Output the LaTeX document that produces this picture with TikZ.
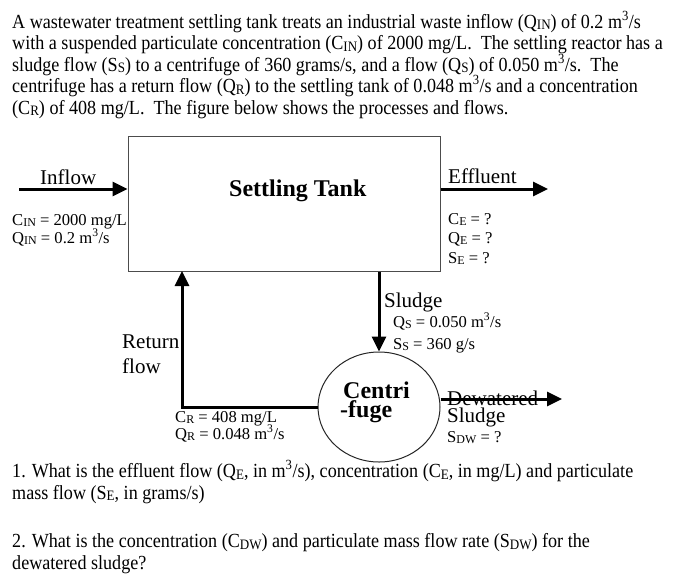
\documentclass[tikz,border=0pt]{standalone}
\usepackage{fontspec}
\setmainfont{Liberation Serif}
\newfontfamily\condfont{Liberation Serif}[FakeStretch=0.905]
\usetikzlibrary{shapes,arrows,positioning,calc,arrows.meta}
\newcommand{\lsub}[1]{\raisebox{-0.2ex}{\scalebox{0.72}{#1}}}
\newcommand{\cube}{\textsuperscript{3}}

\begin{document}
\begin{tikzpicture}[x=1pt, y=-1pt,
    block/.style={rectangle, draw=black!70, line width=1pt, minimum width=312pt, minimum height=135pt},
    drum/.style={ellipse, draw=black!85, line width=1pt, minimum width=122pt, minimum height=110pt},
    flow/.style={-{Triangle[length=15pt,width=14pt]}, line width=3pt},
    txt/.style={anchor=base west, inner sep=0pt, align=left, font=\condfont\fontsize{20}{21.5}\selectfont},
    big/.style={anchor=base west, inner sep=0pt, font=\fontsize{21}{24}\selectfont},
    small/.style={anchor=base west, inner sep=0pt, font=\fontsize{16.6}{19}\selectfont}]
    \useasboundingbox (0,0) rectangle (700,584);
    % problem statement (base = last line)
    \node[txt] (intro) at (12,114) {A wastewater treatment settling tank treats an industrial waste inflow (Q\lsub{IN}) of 0.2 m\cube/s\\
        with a suspended particulate concentration (C\lsub{IN}) of 2000 mg/L.\ \ The settling reactor has a\\
        sludge flow (S\lsub{S}) to a centrifuge of 360 grams/s, and a flow (Q\lsub{S}) of 0.050 m\cube/s.\ \ The\\
        centrifuge has a return flow (Q\lsub{R}) to the settling tank of 0.048 m\cube/s and a concentration\\
        (C\lsub{R}) of 408 mg/L.\ \ The figure below shows the processes and flows.};
    % units
    \node[block] (tank) at (284,203.5) {};
    \node[big, font=\fontsize{24}{26}\selectfont\bfseries] (tanklbl) at (229,196) {Settling Tank};
    \node[drum] (cfg) at (379,407) {};
    \node[big, align=left, font=\fontsize{24}{19}\selectfont\bfseries] (cfglbl) at (340,417) {\hspace*{3pt}Centri\\-fuge};
    % free ends
    \coordinate (inA) at (19,189);
    \coordinate (outE) at (548,189);
    \coordinate (ret) at (182,271);
    \coordinate (dw) at (562,399);
    % flows
    \draw[flow] (inA) -- (inA -| tank.west);
    \draw[flow] (outE -| tank.east) -- (outE);
    \draw[flow] (tank.south -| cfg.north) -- (cfg.north);
    \draw[flow] (cfg.west) -| (ret);
    \draw[flow] (dw -| cfg.east) -- (dw);
    % labels
    \node[big] (inlbl) at (40,184) {Inflow};
    \node[small] (cin) at (12,225) {C\lsub{IN} = 2000 mg/L};
    \node[small] (qin) at (12,243) {Q\lsub{IN} = 0.2 m\cube/s};
    \node[big] (efflbl) at (448,183) {Effluent};
    \node[small] (ce) at (448,224) {C\lsub{E} = ?};
    \node[small] (qe) at (448,243) {Q\lsub{E} = ?};
    \node[small] (se) at (448,263) {S\lsub{E} = ?};
    \node[big] (slulbl) at (384,307) {Sludge};
    \node[small] (qs) at (393,327) {Q\lsub{S} = 0.050 m\cube/s};
    \node[small] (ss) at (393,349) {S\lsub{S} = 360 g/s};
    \node[big] (retlbl) at (122,348) {Return};
    \node[big] (retlbl2) at (122,373) {flow};
    \node[small] (cr) at (175,422) {C\lsub{R} = 408 mg/L};
    \node[small] (qr) at (175,439) {Q\lsub{R} = 0.048 m\cube/s};
    \node[big] (dwlbl) at (447,405) {Dewatered};
    \node[big] (dwlbl2) at (447,422) {Sludge};
    \node[small] (sdw) at (447,442) {S\lsub{DW} = ?};
    % questions
    \node[txt] (q1) at (12,499) {1. What is the effluent flow (Q\lsub{E}, in m\cube/s), concentration (C\lsub{E}, in mg/L) and particulate\\
        mass flow (S\lsub{E}, in grams/s)};
    \node[txt] (q2) at (12,569) {2. What is the concentration (C\lsub{DW}) and particulate mass flow rate (S\lsub{DW}) for the\\
        dewatered sludge?};
\end{tikzpicture}
\end{document}
